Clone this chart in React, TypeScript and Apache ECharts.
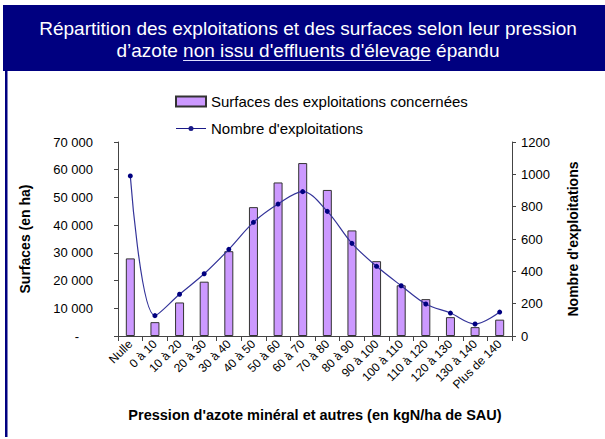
import React, { useEffect, useRef } from "react";
import * as echarts from "echarts";

const categories = [
  "Nulle", "0 à 10", "10 à 20", "20 à 30", "30 à 40", "40 à 50", "50 à 60", "60 à 70",
  "70 à 80", "80 à 90", "90 à 100", "100 à 110", "110 à 120", "120 à 130", "130 à 140", "Plus de 140",
];
const surfaces = [28000, 5000, 12100, 19600, 30600, 46500, 55400, 62400, 52700, 38100, 27000, 18300, 13300, 6800, 3200, 5900];
const exploitations = [990, 126, 258, 385, 536, 703, 816, 893, 771, 573, 431, 311, 198, 142, 74, 148];

const titleLine1 = "Répartition des exploitations et des surfaces selon leur pression";
const titlePre = "d’azote ";
const titleUnder = "non issu d'effluents d'élevage";
const titlePost = " épandu";

const FONT = "'Liberation Sans', Arial, sans-serif";

function fmtThousands(v: number): string {
  return String(v).replace(/\B(?=(\d{3})+(?!\d))/g, " ");
}

export default function App() {
  const ref = useRef<HTMLDivElement>(null);
  useEffect(() => {
    if (!ref.current) return;
    const chart = echarts.init(ref.current, undefined, { renderer: "svg" });

    const cx = 308;
    const titleSize = 19;
    const canvas = document.createElement("canvas");
    const ctx = canvas.getContext("2d")!;
    ctx.font = `${titleSize}px 'Liberation Sans'`;
    const wPre = ctx.measureText(titlePre).width;
    const wUnder = ctx.measureText(titleUnder).width;
    const wAll = ctx.measureText(titlePre + titleUnder + titlePost).width;
    const x0 = cx - wAll / 2;

    chart.setOption({
      animation: false,
      backgroundColor: "#ffffff",
      graphic: [
        { type: "rect", shape: { x: 3, y: 5, width: 610, height: 66 }, style: { fill: "#000080" }, silent: true },
        { type: "rect", shape: { x: 5, y: 70, width: 2.5, height: 367 }, style: { fill: "#000080" }, silent: true },
        {
          type: "text", x: cx, y: 28,
          style: { text: titleLine1, fill: "#ffffff", font: `${titleSize}px ${FONT}`, textAlign: "center", textVerticalAlign: "middle" },
        },
        {
          type: "text", x: cx, y: 50,
          style: { text: titlePre + titleUnder + titlePost, fill: "#ffffff", font: `${titleSize}px ${FONT}`, textAlign: "center", textVerticalAlign: "middle" },
        },
        {
          type: "line",
          shape: { x1: x0 + wPre, y1: 60.5, x2: x0 + wPre + wUnder, y2: 60.5 },
          style: { stroke: "#e0e0ff", lineWidth: 1 },
        },
      ],
      legend: {
        orient: "vertical",
        left: 170,
        top: 89,
        itemWidth: 30,
        itemHeight: 10,
        itemGap: 12,
        textStyle: { fontFamily: FONT, fontSize: 15, color: "#000", padding: [0, 0, 0, 0] },
        data: [
          { name: "Surfaces des exploitations concernées", icon: "rect" },
          {
            name: "Nombre d'exploitations",
            icon: "path://M0,4.5 L30,4.5 L30,5.5 L0,5.5 Z M15,2.5 A2.5,2.5 0 1,1 15,7.5 A2.5,2.5 0 1,1 15,2.5 Z",
            itemStyle: { color: "#1a1a88", borderWidth: 0 },
          },
        ],
      },
      grid: { left: 118, right: 93, top: 142, bottom: 103, containLabel: false },
      xAxis: {
        type: "category",
        data: categories,
        boundaryGap: true,
        name: "Pression d'azote minéral et autres (en kgN/ha de SAU)",
        nameLocation: "middle",
        nameGap: 71,
        nameTextStyle: { fontFamily: FONT, fontSize: 14.5, fontWeight: "bold", color: "#000" },
        axisLine: { lineStyle: { color: "#444", width: 1 } },
        axisTick: { show: true, alignWithLabel: false, length: 5, lineStyle: { color: "#444" } },
        axisLabel: { rotate: 45, fontFamily: FONT, fontSize: 12, color: "#000", margin: 6, interval: 0 },
      },
      yAxis: [
        {
          type: "value",
          min: 0,
          max: 70000,
          interval: 10000,
          position: "left",
          name: "Surfaces (en ha)",
          nameLocation: "middle",
          nameRotate: 90,
          nameGap: 86,
          nameTextStyle: { fontFamily: FONT, fontSize: 14, fontWeight: "bold", color: "#000" },
          splitLine: { show: false },
          axisLine: { show: true, lineStyle: { color: "#444", width: 1 } },
          axisTick: { show: true, length: 4, lineStyle: { color: "#444" } },
          axisLabel: {
            fontFamily: FONT, fontSize: 13, color: "#000", margin: 25,
            formatter: (v: number) => (v === 0 ? "{d|-}" : fmtThousands(v)),
            rich: { d: { fontFamily: FONT, fontSize: 13, color: "#000", padding: [0, 14, 0, 0] } },
          },
        },
        {
          type: "value",
          min: 0,
          max: 1200,
          interval: 200,
          position: "right",
          name: "Nombre d'exploitations",
          nameLocation: "middle",
          nameRotate: 90,
          nameGap: 54,
          nameTextStyle: { fontFamily: FONT, fontSize: 14, fontWeight: "bold", color: "#000" },
          splitLine: { show: false },
          axisLine: { show: true, lineStyle: { color: "#444", width: 1 } },
          axisTick: { show: true, length: 4, lineStyle: { color: "#444" } },
          axisLabel: { fontFamily: FONT, fontSize: 13, color: "#000", margin: 9, formatter: (v: number) => String(v) },
        },
      ],
      series: [
        {
          name: "Surfaces des exploitations concernées",
          type: "bar",
          yAxisIndex: 0,
          data: surfaces,
          barWidth: 9,
          itemStyle: { color: "#CC99FF", borderColor: "#333", borderWidth: 1 },
        },
        {
          name: "Nombre d'exploitations",
          type: "line",
          yAxisIndex: 1,
          data: exploitations,
          smooth: 0.35,
          symbol: "circle",
          symbolSize: 5,
          lineStyle: { color: "#333399", width: 1.2 },
          itemStyle: { color: "#000080" },
        },
      ],
    });
    return () => chart.dispose();
  }, []);
  return <div ref={ref} style={{ position: "fixed", left: 0, top: 0, width: 605, height: 439 }} />;
}
